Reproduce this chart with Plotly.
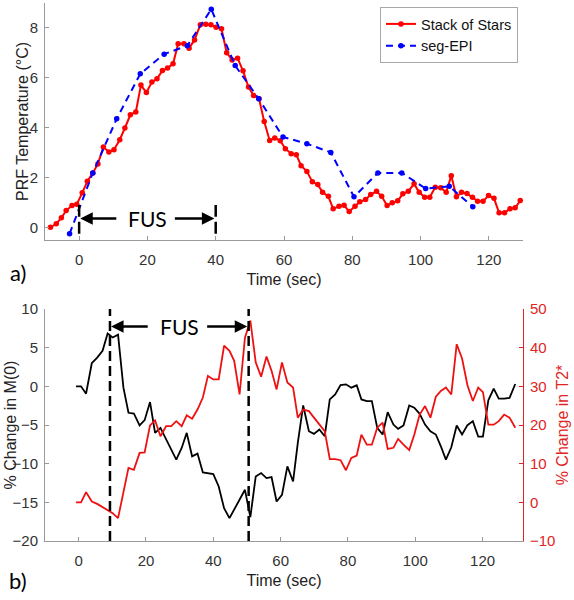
import plotly.graph_objects as go

# ---------------- Panel a: PRF temperature ----------------
sos_time = [-8.4, -6.7, -5.2, -3.8, -2.1, -0.7, 0.9, 2.4, 4.0, 5.5, 7.1, 8.7, 10.2, 11.9, 13.4,
            15.0, 16.6, 18.1, 19.7, 21.3, 22.8, 24.4, 25.9, 27.5, 29.0, 30.7, 32.2, 33.8, 35.5,
            37.1, 38.6, 40.1, 41.7, 43.2, 44.8, 46.4, 48.0, 49.6, 51.1, 52.7, 54.2, 55.8, 57.3,
            58.9, 60.4, 62.1, 63.6, 65.0, 66.7, 68.3, 69.9, 71.3, 73.0, 74.4, 76.1, 77.6, 79.1,
            80.8, 82.2, 83.9, 85.4, 87.1, 88.6, 90.2, 91.7, 93.3, 94.8, 96.4, 98.1, 99.6, 101.2,
            102.7, 104.3, 105.9, 107.5, 109.0, 110.5, 112.0, 113.6, 115.2, 116.7, 118.3, 119.9,
            121.5, 123.0, 124.6, 126.2, 127.7, 129.2]
sos_temp = [0.01, 0.15, 0.39, 0.68, 0.88, 0.93, 1.39, 1.85, 2.19, 2.55, 3.23, 3.03, 3.12, 3.52, 3.99,
            4.52, 4.63, 5.71, 5.41, 5.83, 5.96, 6.29, 6.39, 6.56, 7.37, 7.37, 7.19, 7.52, 8.13,
            8.15, 8.13, 8.03, 7.97, 7.01, 6.72, 6.79, 6.28, 5.63, 5.29, 5.16, 4.25, 3.49, 3.59,
            3.48, 3.16, 2.96, 2.92, 2.48, 2.25, 1.83, 1.72, 1.41, 1.25, 0.75, 0.85, 0.89, 0.64,
            0.85, 1.03, 1.12, 1.32, 1.45, 1.25, 0.88, 0.99, 1.07, 1.35, 1.45, 1.75, 1.41, 1.21,
            1.21, 1.61, 1.59, 1.41, 2.08, 1.23, 1.41, 1.36, 1.21, 1.05, 1.05, 1.28,
            1.17, 0.59, 0.59, 0.75, 0.79, 1.08]
epi_time = [-2.8, 4.0, 11.0, 17.9, 24.9, 31.7, 38.7, 45.7, 52.6, 59.7, 66.7, 73.7, 80.5, 87.5,
            94.5, 101.5, 108.4, 115.3]
epi_temp = [-0.25, 2.19, 4.36, 6.16, 6.95, 7.29, 8.75, 6.49, 5.16, 3.63, 3.36, 3.01, 1.23, 2.19,
            2.19, 1.56, 1.65, 0.83]
fus_a = [0, 40]

# ---------------- Panel b: % change in M(0) and T2* ----------------
b_time = [-0.8, 0.7, 2.2, 3.9, 5.5, 7.1, 8.6, 10.1, 11.7, 13.3, 14.8, 16.4, 18.1, 19.6, 21.2,
          22.7, 24.3, 26.0, 27.5, 29.0, 30.6, 32.1, 33.7, 35.3, 36.9, 38.4, 40.0, 41.6, 43.2,
          44.8, 46.2, 47.8, 49.4, 51.0, 52.6, 54.2, 55.8, 57.3, 58.8, 60.4, 62.0, 63.7, 65.1,
          66.7, 68.4, 69.9, 71.5, 73.1, 74.6, 76.2, 77.8, 79.4, 81.0, 82.6, 84.0, 85.6, 87.1,
          88.7, 90.3, 91.8, 93.5, 94.9, 96.5, 98.2, 99.7, 101.3, 102.9, 104.5, 106.1, 107.6,
          109.1, 110.7, 112.3, 113.9, 115.5, 117.1, 118.7, 120.1, 121.7, 123.3, 124.8, 126.4,
          128.0, 129.7]
m0_change = [0, 0, -0.95, 2.99, 3.72, 4.59, 6.84, 6.32, 6.67, -0.17,
             -3.42, -3.51, -5.06, -4.37, -2.03, -6.02, -5.37, -6.88, -8.18, -9.48,
             -7.97, -6.02, -9.05, -8.70, -11.13, -11.26, -11.34, -12.95, -15.76, -17.05,
             -15.89, -14.76, -13.38, -16.92, -11.65, -11.21, -11.86, -11.73, -14.89, -14.03,
             -10.35, -12.30, -7.32, -2.47, -5.80, -6.15, -5.58, -6.45, -1.69, -1.04,
             0.17, 0.26, -0.17, 0.13, -1.69, -1.91, -1.91, -5.37, -6.23, -3.33,
             -4.94, -5.50, -5.06, -2.47, -2.77, -3.55, -4.94, -5.80, -6.23, -7.75,
             -9.48, -7.88, -5.06, -6.23, -5.02, -4.50, -6.5, -6.5, -1.8, -0.3,
             -1.6, -1.6, -1.5, 0.3]
t2_change = [0, 0, 2.65, 0.2, -0.4, -1.26, -2.2, -2.8, -4.1, 2.4,
             8.9, 8.4, 12.8, 12.9, 19.9, 21.2, 17.1, 19.7, 19.7, 21.0,
             19.7, 22.5, 21.6, 24.0, 27.1, 32.7, 31.8, 31.8, 40.5, 39.2,
             36.6, 27.9, 42.6, 47.0, 36.2, 32.5, 37.7, 34.0, 29.2, 36.2,
             31.0, 29.7, 21.9, 24.0, 23.6, 21.9, 20.1, 18.4, 11.2, 11.2,
             10.9, 8.3, 11.5, 12.1, 17.5, 14.9, 14.9, 19.3, 20.6, 13.8,
             14.1, 16.4, 14.9, 13.5, 17.5, 22.7, 24.9, 21.9, 27.3, 28.8,
             29.7, 27.9, 40.9, 37.2, 30.3, 26.2, 29.7, 28.5, 20.1, 20.1,
             21.0, 22.7, 21.9, 19.3]
fus_b = [9.3, 50.5]

SANS = "Liberation Sans, Arial, sans-serif"
TICK_FONT = dict(family=SANS, size=15, color="#333333")
TITLE_FONT = dict(family=SANS, size=16, color="#222222")
CAL_FONT = "Lato, Carlito, Calibri, sans-serif"
AX_GREY = "#9a9a9a"
RED_AX = "#e02424"

fig = go.Figure()
fig.add_trace(go.Scatter(x=sos_time, y=sos_temp, mode="lines+markers", name="Stack of Stars",
                         line=dict(color="#ff0000", width=2), marker=dict(size=5.5, color="#ff0000"),
                         xaxis="x", yaxis="y"))
fig.add_trace(go.Scatter(x=epi_time, y=epi_temp, mode="lines+markers", name="seg-EPI",
                         line=dict(color="#0000ff", width=2, dash="7px,5px"),
                         marker=dict(size=5.5, color="#0000ff"), xaxis="x", yaxis="y"))
fig.add_trace(go.Scatter(x=b_time, y=m0_change, mode="lines", name="M(0)", showlegend=False,
                         line=dict(color="#000000", width=1.8), xaxis="x2", yaxis="y2"))
fig.add_trace(go.Scatter(x=b_time, y=t2_change, mode="lines", name="T2*", showlegend=False,
                         line=dict(color="#ee1111", width=1.8), xaxis="x2", yaxis="y3"))

common_x = dict(showgrid=False, zeroline=False, showline=True, linecolor=AX_GREY, linewidth=1,
                ticks="inside", ticklen=4, tickcolor=AX_GREY, tickfont=TICK_FONT,
                tickvals=[0, 20, 40, 60, 80, 100, 120], ticklabelstandoff=6, automargin=False)
common_y = dict(showgrid=False, zeroline=False, showline=True, linecolor=AX_GREY, linewidth=1,
                ticks="inside", ticklen=4, tickcolor=AX_GREY, tickfont=TICK_FONT,
                ticklabelstandoff=3, automargin=False)

TOP_DOM = [0.5595, 1]
BOT_DOM = [0, 0.4312]

fig.update_layout(
    width=574, height=600,
    margin=dict(l=45, r=51, t=3, b=59),
    paper_bgcolor="white", plot_bgcolor="white",
    template="none",
    xaxis=dict(common_x, domain=[0, 1], anchor="y", range=[-10, 130],
               title=dict(text="Time (sec)", font=TITLE_FONT, standoff=6)),
    yaxis=dict(common_y, domain=TOP_DOM, anchor="x", range=[-0.5, 9], tickvals=[0, 2, 4, 6, 8]),
    xaxis2=dict(common_x, domain=[0, 1], anchor="y2", range=[-10, 132],
                title=dict(text="Time (sec)", font=TITLE_FONT, standoff=6)),
    yaxis2=dict(common_y, domain=BOT_DOM, anchor="x2", range=[-20, 10],
                tickvals=[-20, -15, -10, -5, 0, 5, 10]),
    yaxis3=dict(common_y, overlaying="y2", side="right", anchor="x2", range=[-10, 50],
                tickvals=[-10, 0, 10, 20, 30, 40, 50], linecolor=RED_AX, tickcolor=RED_AX,
                tickfont=dict(TICK_FONT, color=RED_AX),
                title=dict(text="% Change in T2*", font=dict(TITLE_FONT, color=RED_AX), standoff=2)),
    legend=dict(x=0.9895, y=0.9926, xanchor="right", yanchor="top", bgcolor="white",
                bordercolor="#a8a8a8", borderwidth=1, itemwidth=30, tracegroupgap=0,
                font=dict(family=SANS, size=14.5, color="#111111")),
    showlegend=True,
)

shapes = []
annotations = []


def add_fus(xref, yref, start, end, level, y0, y1, dash):
    span = end - start
    for xv in (start, end):
        shapes.append(dict(type="line", xref=xref, yref=yref, x0=xv, x1=xv, y0=y0, y1=y1,
                           line=dict(color="black", width=2.5, dash=dash)))
    for tip, tail in ((start + 0.008 * span, start + 0.283 * span),
                      (end - 0.01 * span, start + 0.69 * span)):
        annotations.append(dict(x=tip, y=level, ax=tail, ay=level, xref=xref, yref=yref,
                                axref=xref, ayref=yref, text="", showarrow=True,
                                arrowhead=2, arrowsize=1, arrowwidth=2.5, arrowcolor="black",
                                standoff=0, startstandoff=0))
    annotations.append(dict(x=start + 0.5 * span, y=level, xref=xref, yref=yref, text="FUS",
                            showarrow=False, font=dict(family=CAL_FONT, size=21, color="black"),
                            xanchor="center", yanchor="middle"))


add_fus("x", "y", fus_a[0], fus_a[1], 0.36, -0.25, 0.9, "12px,5px")
add_fus("x2", "y2", fus_b[0], fus_b[1], 7.75, -20, 10, "10px,5px")

# left y-axis titles (rotated), placed precisely
annotations.append(dict(x=-0.0471, y=sum(TOP_DOM) / 2, xref="paper", yref="paper",
                        text="PRF Temperature (°C)", textangle=-90, showarrow=False,
                        font=TITLE_FONT, xanchor="center", yanchor="middle"))
annotations.append(dict(x=-0.0722, y=sum(BOT_DOM) / 2, xref="paper", yref="paper",
                        text="% Change in M(0)", textangle=-90, showarrow=False,
                        font=TITLE_FONT, xanchor="center", yanchor="middle"))

annotations.append(dict(x=-0.0575, y=0.499, xref="paper", yref="paper", text="a)", showarrow=False,
                        font=dict(family=CAL_FONT, size=22, color="black"),
                        xanchor="center", yanchor="middle"))
annotations.append(dict(x=-0.0575, y=-0.0743, xref="paper", yref="paper", text="b)", showarrow=False,
                        font=dict(family=CAL_FONT, size=22, color="black"),
                        xanchor="center", yanchor="middle"))

fig.update_layout(shapes=shapes, annotations=annotations)
fig.write_html("out.html", config={"displayModeBar": False},
               post_script="document.body.style.margin='0px';")
